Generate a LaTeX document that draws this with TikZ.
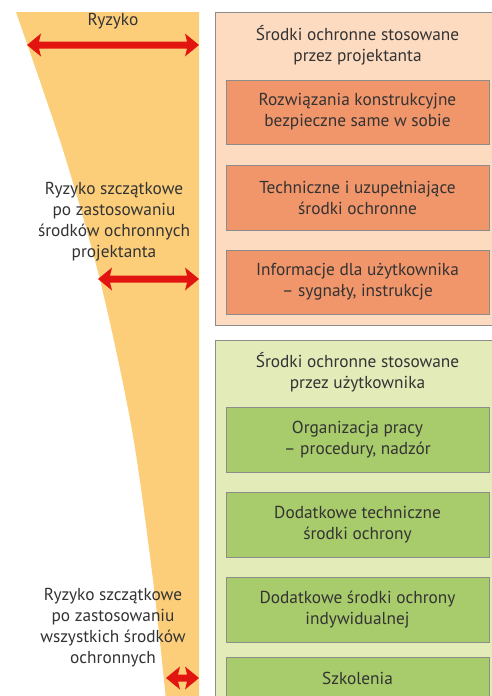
\documentclass[tikz,border=0pt]{standalone}
\usepackage{fontspec}
\setmainfont{PT Sans}
\definecolor{funnel}{HTML}{FCCE7A}
\definecolor{peach}{HTML}{FCDBC0}
\definecolor{orangebox}{HTML}{F1956A}
\definecolor{lightgreen}{HTML}{E3EBB9}
\definecolor{greenbox}{HTML}{A8CB6B}
\definecolor{arrowred}{HTML}{E2140F}
\definecolor{bordergray}{HTML}{8C8C8C}
\definecolor{txtgray}{HTML}{333333}
\newcommand\riskarrow[3]{%
  \fill[arrowred] (#1,#3) -- (#1+14,#3-11.5) -- (#1+12,#3-3.5) -- (#2-12,#3-3.5) -- (#2-14,#3-11.5)
    -- (#2,#3) -- (#2-14,#3+11.5) -- (#2-12,#3+3.5) -- (#1+12,#3+3.5) -- (#1+14,#3+11.5) -- cycle;}
\begin{document}
\begin{tikzpicture}[x=1pt,y=-1pt,
  txt/.style={text=txtgray, font=\fontsize{17.3}{21}\selectfont, align=center, inner sep=0pt},
  outerbox/.style={draw=bordergray, line width=0.8pt},
  innerbox/.style={txt, draw=bordergray, line width=0.8pt, minimum width=263pt, inner sep=0pt},
  obox/.style={innerbox, fill=orangebox},
  gbox/.style={innerbox, fill=greenbox}]
\useasboundingbox (0,0) rectangle (492,696);
\clip (0,0) rectangle (492,696);
\fill[white] (0,0) rectangle (492,696);
% funnel
\fill[funnel] plot[smooth] coordinates {(16,12) (63,150) (100,280) (132,430) (153,580) (166,700)}
  -- (199,700) -- (199,12) -- cycle;
% arrows
\riskarrow{27}{199}{45}
\riskarrow{98}{199}{279}
\riskarrow{166}{199}{678}
% left texts
\node[txt] (ryz) at (113,21) {Ryzyko};
\node[txt] (rs1) at (114,222) {Ryzyko szczątkowe\\po zastosowaniu\\środków ochronnych\\projektanta};
\node[txt] (rs2) at (113,628) {Ryzyko szczątkowe\\po zastosowaniu\\wszystkich środków\\ochronnych};
% designer group
\draw[outerbox, fill=peach] (215,12) rectangle (496,325);
\node[txt] (ptitle) at (357.5,45) {Środki ochronne stosowane\\przez projektanta};
\node[obox, minimum height=64pt] (o1) at (357.5,112) {Rozwiązania konstrukcyjne\\bezpieczne same w sobie};
\node[obox, minimum height=65pt] (o2) at (357.5,197.5) {Techniczne i uzupełniające\\środki ochronne};
\node[obox, minimum height=64pt] (o3) at (357.5,282) {Informacje dla użytkownika\\– sygnały, instrukcje};
% user group
\draw[outerbox, fill=lightgreen] (215,340) rectangle (496,705);
\node[txt] (gtitle) at (357.5,372) {Środki ochronne stosowane\\przez użytkownika};
\node[gbox, minimum height=65pt] (g1) at (357.5,439.5) {Organizacja pracy\\– procedury, nadzór};
\node[gbox, minimum height=65pt] (g2) at (357.5,524.5) {Dodatkowe techniczne\\środki ochrony};
\node[gbox, minimum height=65pt] (g3) at (357.5,609.5) {Dodatkowe środki ochrony\\indywidualnej};
\node[gbox, minimum height=43pt] (g4) at (357.5,678.5) {Szkolenia};
\end{tikzpicture}
\end{document}
